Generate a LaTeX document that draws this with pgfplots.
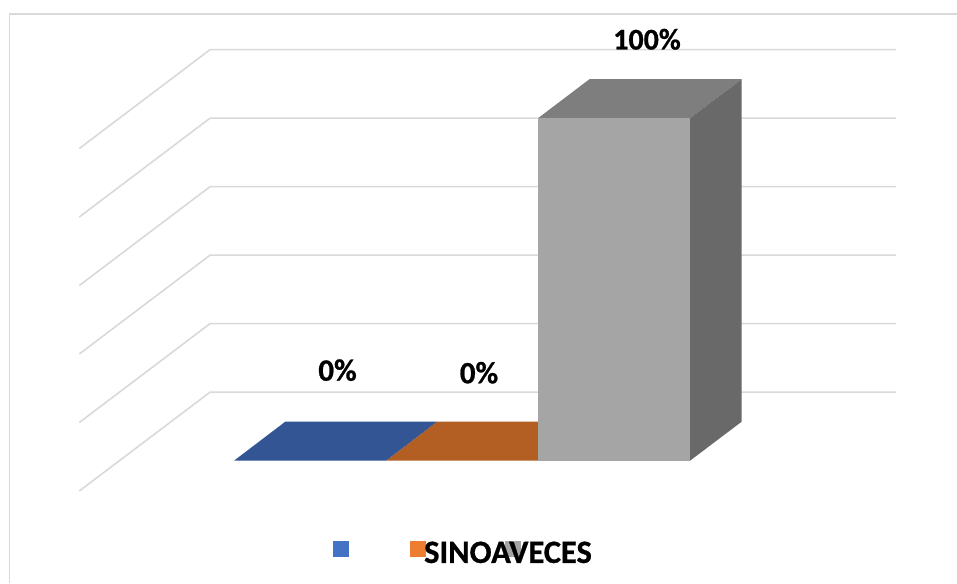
\documentclass[border=0pt]{standalone}
\usepackage{fontspec}
\setmainfont[BoldFeatures={FakeBold=0.8}]{Carlito}
\usepackage{pgfplots}
\pgfplotsset{compat=1.18}
\definecolor{gridgray}{HTML}{D9D9D9}
\definecolor{bluefloor}{HTML}{335593}
\definecolor{orangefloor}{HTML}{B35E22}
\definecolor{grayfront}{HTML}{A5A5A5}
\definecolor{graytop}{HTML}{7E7E7E}
\definecolor{grayside}{HTML}{696969}
\definecolor{keyblue}{HTML}{4472C4}
\definecolor{keyorange}{HTML}{ED7D31}
\tikzset{
  wall/.style={draw=gridgray, line width=1.6pt, no marks},
  face/.style={draw=none, no marks},
  datalabel/.style={anchor=base, font=\fontsize{30}{32}\selectfont\bfseries, text=black, inner sep=0pt},
}
\begin{document}
\begin{tikzpicture}
\begin{axis}[
  scale only axis, width=957pt, height=583pt,
  xmin=0, xmax=957, ymin=-35.71, ymax=134.51,
  axis line style={draw=none}, ticks=none, clip=true,
  every axis plot/.append style={line join=miter},
]
% chart frame: top and left edges
\addplot[wall, line width=1.7pt] coordinates {(9.5,-35.71) (9.5,130.42) (957,130.42)};

% gridlines: floor edge, side wall, back wall, every 20%
\addplot[wall] coordinates {(79.3,-8.85) (210,20)  (896,20)};
\addplot[wall] coordinates {(79.3,11.15) (210,40)  (896,40)};
\addplot[wall] coordinates {(79.3,31.15) (210,60)  (896,60)};
\addplot[wall] coordinates {(79.3,51.15) (210,80)  (896,80)};
\addplot[wall] coordinates {(79.3,71.15) (210,100) (896,100)};
\addplot[wall] coordinates {(79.3,91.15) (210,120) (896,120)};

% orange bar, value 0: only its flat base shows
\addplot[face, fill=orangefloor] coordinates {(386,0) (538,0) (589.5,11.39) (437,11.39)} -- cycle;
% blue bar, value 0: only its flat base shows
\addplot[face, fill=bluefloor] coordinates {(234,0) (386,0) (437,11.39) (285.3,11.39)} -- cycle;

% gray bar, value 100: top, side and front faces
\addplot[face, fill=graytop] coordinates {(538,100) (690,100) (741.7,111.39) (589.5,111.39)} -- cycle;
\addplot[face, fill=grayside] coordinates {(690,0) (741.7,11.39) (741.7,111.39) (690,100)} -- cycle;
\addplot[face, fill=grayfront] coordinates {(538,0) (690,0) (690,100) (538,100)} -- cycle;

% legend keys
\addplot[face, fill=keyblue] coordinates {(332.7,-28.15) (348.7,-28.15) (348.7,-23.47) (332.7,-23.47)} -- cycle;
\addplot[face, fill=keyorange] coordinates {(410,-28.15) (426,-28.15) (426,-23.47) (410,-23.47)} -- cycle;
\addplot[face, fill=grayfront] coordinates {(505,-28.15) (521,-28.15) (521,-23.47) (505,-23.47)} -- cycle;

% value labels
\node[datalabel, font=\fontsize{31}{33}\selectfont\bfseries] at (axis cs:337.5,23.36) {0\%};
\node[datalabel, font=\fontsize{31}{33}\selectfont\bfseries] at (axis cs:479,22.6) {0\%};
\node[datalabel] at (axis cs:647,120.06) {100\%};

% legend text
\node[datalabel, font=\fontsize{32.5}{34}\selectfont\bfseries] at (axis cs:508,-29.85) {SINOAVECES};
\end{axis}
\end{tikzpicture}
\end{document}
